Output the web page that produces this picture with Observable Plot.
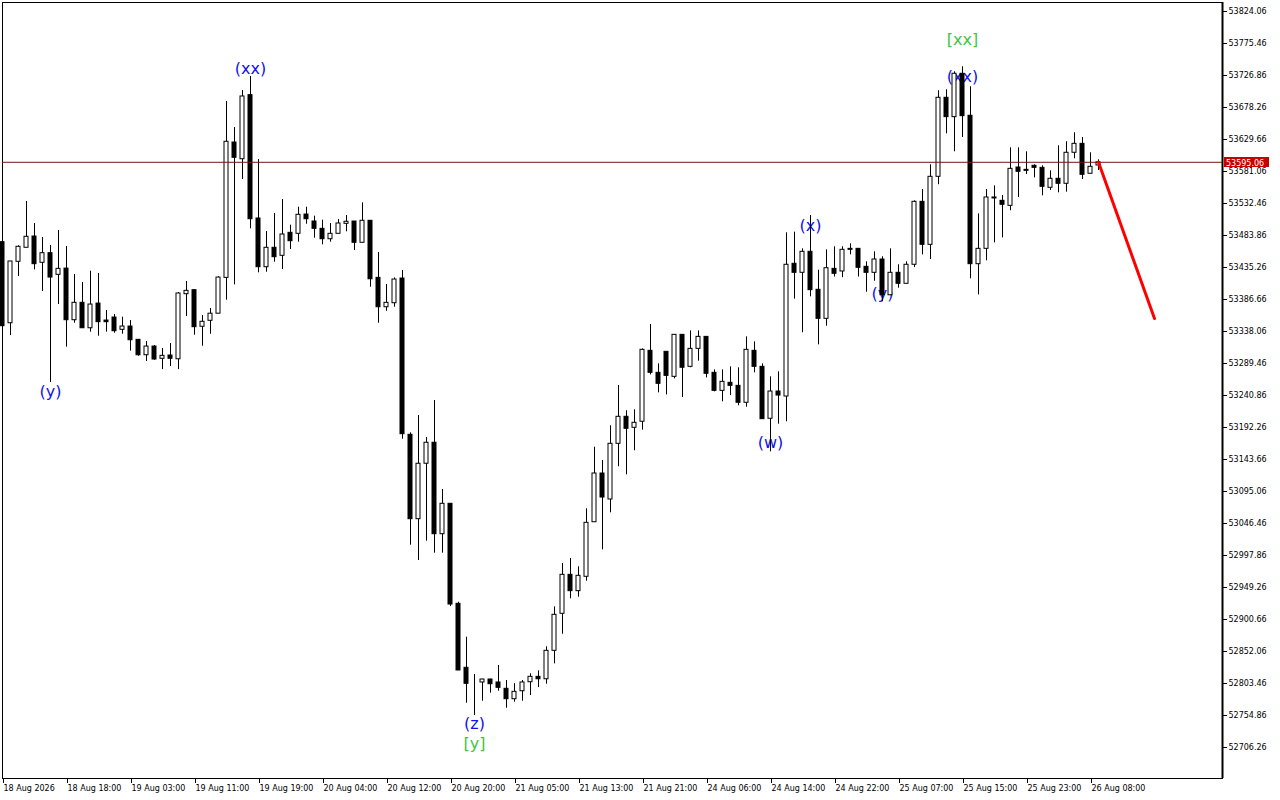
<!DOCTYPE html>
<html><head><meta charset="utf-8">
<script src="https://cdn.jsdelivr.net/npm/d3@7"></script>
<script src="https://cdn.jsdelivr.net/npm/@observablehq/plot@0.6"></script>
<style>
html,body{margin:0;padding:0;background:#fff;}
#chart svg{display:block;}
</style></head><body><div id="chart"></div>
<script>
const opens = [53473.7,53350.6,53443.9,53465.2,53482.3,53442.4,53457.0,53424.1,53433.6,53355.2,53381.6,53343.0,53380.5,53354.7,53359.3,53340.6,53345.6,53325.4,53302.0,53315.2,53296.6,53301.6,53295.9,53394.7,53400.8,53345.2,53354.3,53365.1,53419.5,53625.1,53599.7,53697.0,53509.7,53435.7,53465.2,53453.0,53487.9,53486.4,53515.7,53505.1,53494.0,53478.2,53486.4,53501.6,53505.1,53472.8,53506.2,53419.5,53374.9,53381.0,53418.5,53181.2,53053.0,53137.2,53169.1,53030.2,53076.4,52924.5,52827.3,52805.0,52805.0,52809.5,52805.0,52795.4,52779.6,52791.7,52805.4,52813.6,52809.9,52853.1,52909.3,52968.5,52943.7,52965.5,53048.4,53122.4,53082.9,53167.5,53208.5,53191.8,53201.0,53308.7,53275.3,53307.2,53269.2,53333.0,53284.4,53311.7,53329.9,53275.3,53247.9,53260.1,53255.5,53229.8,53308.7,53284.4,53205.5,53246.9,53239.3,53440.9,53427.2,53459.1,53401.4,53357.3,53433.2,53429.2,53463.6,53463.6,53436.3,53427.2,53447.4,53393.1,53427.2,53410.5,53439.4,53535.0,53469.7,53573.0,53693.0,53663.6,53729.5,53665.7,53440.3,53463.6,53541.6,53536.5,53528.9,53587.1,53583.6,53589.7,53586.6,53556.3,53570.0,53562.4,53609.5,53623.1,53577.6,53590.2];
const highs = [53479.3,53444.4,53468.2,53535.5,53502.1,53480.8,53468.7,53491.4,53467.1,53424.6,53412.5,53429.6,53426.1,53369.9,53363.8,53359.8,53354.7,53325.9,53322.8,53316.8,53312.2,53319.8,53397.3,53414.0,53400.8,53362.3,53372.9,53421.1,53687.4,53647.9,53704.1,53725.4,53599.3,53489.9,53517.3,53538.5,53499.5,53526.8,53526.8,53513.2,53507.1,53502.1,53508.1,53514.2,53505.1,53533.5,53506.6,53458.0,53409.4,53419.5,53430.7,53184.2,53210.5,53177.1,53233.3,53098.1,53076.4,52926.9,52873.8,52817.1,52810.0,52810.0,52830.8,52808.0,52803.2,52808.0,52818.2,52822.7,52859.2,52919.9,52985.7,52993.3,52980.7,53068.8,53162.3,53142.2,53194.9,53256.0,53217.7,53219.2,53311.7,53348.6,53288.9,53307.2,53333.0,53333.0,53339.0,53339.0,53329.9,53279.8,53279.8,53284.4,53282.9,53329.9,53322.4,53288.9,53269.2,53276.8,53488.0,53488.9,53463.6,53514.2,53431.1,53462.1,53466.7,53466.7,53471.2,53463.6,53443.9,53459.1,53451.5,53463.6,53439.4,53443.9,53536.5,53553.7,53591.2,53703.7,53705.2,53732.5,53740.1,53709.7,53516.8,53553.7,53559.3,53544.6,53617.0,53617.0,53611.0,53591.2,53589.7,53582.1,53620.1,53626.2,53639.9,53632.7,53609.5,53598.8];
const lows = [53335.0,53331.9,53421.6,53465.2,53431.7,53398.8,53260.6,53379.0,53314.2,53350.6,53343.0,53337.0,53330.9,53337.0,53335.5,53333.9,53308.2,53300.5,53292.5,53294.4,53280.2,53284.8,53280.2,53360.8,53332.4,53315.7,53333.9,53365.1,53385.6,53408.9,53568.9,53494.0,53427.2,53428.1,53443.3,53432.2,53462.6,53473.7,53501.0,53479.7,53469.7,53473.7,53486.4,53489.5,53461.1,53472.8,53405.3,53350.6,53368.8,53374.9,53174.5,53013.5,52990.3,53019.6,53001.4,53001.4,52920.4,52823.2,52773.5,52754.8,52776.5,52788.8,52791.7,52765.9,52775.0,52776.5,52785.2,52797.3,52802.4,52833.3,52878.3,52932.1,52934.5,52958.8,53048.4,53006.5,53062.7,53132.6,53120.4,53156.9,53188.2,53272.2,53244.9,53241.8,53266.2,53237.7,53283.0,53293.0,53267.6,53246.4,53231.3,53240.7,53225.2,53223.1,53275.3,53204.9,53155.3,53197.3,53201.0,53387.1,53336.1,53390.7,53317.8,53346.1,53420.8,53419.8,53454.5,53420.8,53397.7,53414.4,53383.1,53392.6,53403.9,53410.5,53435.3,53454.5,53447.4,53561.0,53638.3,53611.0,53632.7,53418.1,53393.7,53445.4,53472.7,53480.3,53521.4,53541.6,53576.5,53571.4,53544.1,53552.2,53548.7,53549.7,53600.4,53568.9,53577.6,53582.6];
const closes = [53346.1,53444.4,53466.7,53481.9,53440.3,53457.0,53420.0,53433.2,53355.2,53381.6,53343.0,53379.0,53352.2,53352.2,53338.5,53345.6,53324.8,53302.0,53315.2,53295.5,53301.1,53296.6,53395.8,53399.8,53344.6,53352.8,53365.1,53420.0,53626.2,53601.9,53695.0,53508.6,53435.7,53465.2,53450.9,53485.4,53475.2,53515.3,53508.6,53494.0,53478.2,53486.4,53502.1,53504.7,53472.8,53506.2,53417.4,53374.9,53381.6,53417.0,53182.1,53053.0,53137.2,53169.1,53030.2,53076.4,52923.4,52823.2,52803.0,52805.0,52809.5,52802.4,52796.9,52779.6,52790.8,52805.0,52813.6,52809.9,52853.1,52907.8,52968.5,52943.7,52967.0,53047.5,53122.4,53085.9,53167.5,53208.5,53190.3,53199.4,53310.2,53275.3,53258.6,53270.7,53333.0,53283.0,53311.7,53329.9,53273.8,53247.9,53261.6,53255.5,53229.8,53310.2,53284.4,53204.9,53246.9,53240.8,53439.4,53427.2,53459.1,53400.8,53357.3,53434.2,53425.7,53462.1,53462.1,53434.8,53427.2,53447.4,53393.1,53427.2,53410.5,53439.4,53535.0,53469.7,53573.0,53693.0,53663.6,53729.5,53665.1,53440.3,53463.6,53541.6,53540.1,53530.5,53585.1,53580.6,53582.1,53586.6,53557.8,53570.0,53562.4,53609.5,53623.1,53576.0,53588.2,53595.06];

const xTickBars = [0,8,16,24,32,40,48,56,64,72,80,88,96,104,112,120,128,136];
const xTickLabels = ["18 Aug 2026","18 Aug 18:00","19 Aug 03:00","19 Aug 11:00","19 Aug 19:00","20 Aug 04:00","20 Aug 12:00","20 Aug 20:00","21 Aug 05:00","21 Aug 13:00","21 Aug 21:00","24 Aug 06:00","24 Aug 14:00","24 Aug 22:00","25 Aug 07:00","25 Aug 15:00","25 Aug 23:00","26 Aug 08:00"];
const yTickValues = [53824.06,53775.46,53726.86,53678.26,53629.66,53581.06,53532.46,53483.86,53435.26,53386.66,53338.06,53289.46,53240.86,53192.26,53143.66,53095.06,53046.46,52997.86,52949.26,52900.66,52852.06,52803.46,52754.86,52706.26];
const lastPrice = 53595.06;

const forecastBars = [137, 144];
const forecastPrices = [53595.06, 53357.8];

const waveTexts  = ["(y)","(xx)","(z)","[y]","(w)","(x)","(y)","(xx)","[xx]"];
const waveBars   = [6, 31, 59, 59, 96, 101, 110, 120, 120];
const wavePrices = [53246.9, 53737.5, 52742.7, 52712.3, 53169.5, 53499.0, 53395.8, 53725.4, 53781.6];
const waveColors = ["#1010f0","#1010f0","#1010f0","#3cc83c","#1010f0","#1010f0","#1010f0","#1010f0","#3cc83c"];

const candles = opens.map((o, i) => ({i, o, h: highs[i], l: lows[i], c: closes[i], up: closes[i] >= o}));
const waves = waveTexts.map((t, k) => ({t, x: waveBars[k], y: wavePrices[k], color: waveColors[k]}));
const forecast = forecastBars.map((b, k) => ({x: b, y: forecastPrices[k]}));

const W = 1280, H = 800, mL = 2, mR = 58, mT = 2, mB = 22;

const plot = Plot.plot({
  width: W, height: H,
  marginLeft: mL, marginRight: mR, marginTop: mT, marginBottom: mB,
  x: {type: "linear", domain: [0, 152.5]},
  y: {domain: [52659.179, 53837.729]},
  style: {fontFamily: "'DejaVu Sans', sans-serif", fontSize: "8px", background: "#fff", color: "#000", overflow: "visible"},
  marks: [
    Plot.frame({stroke: "#000", strokeWidth: 1}),
    Plot.ruleX([152.5], {stroke: "#000", strokeWidth: 2}),
    Plot.axisY({anchor: "right", ticks: yTickValues, tickFormat: d => d.toFixed(2), tickSize: 4, tickPadding: 2, label: null}),
    Plot.axisX({ticks: xTickBars, tickFormat: d => xTickLabels[xTickBars.indexOf(d)], tickSize: 5, tickPadding: 2, textAnchor: "start", dx: 1, label: null}),
    Plot.text(waves, {x: "x", y: "y", text: "t", fill: "color", fontSize: 16, fontFamily: "'DejaVu Sans', sans-serif"}),
    Plot.ruleX(candles, {x: "i", y1: "l", y2: "h", stroke: "#000", strokeWidth: 1}),
    Plot.rect(candles, {x1: d => d.i - 0.25, x2: d => d.i + 0.25, y1: "o", y2: "c", fill: d => d.up ? "#ffffff" : "#000000", stroke: "#000", strokeWidth: 1}),
    Plot.ruleY([lastPrice], {stroke: "#7a1010", strokeWidth: 1}),
    Plot.line(forecast, {x: "x", y: "y", stroke: "#ff0000", strokeWidth: 3})
  ]
});

document.getElementById("chart").appendChild(plot);

// current price tag on the right axis
const yPix = plot.scale("y").apply(lastPrice);
const svg = d3.select(plot);
const g = svg.append("g");
g.append("rect").attr("x", W - mR + 2).attr("y", Math.round(yPix) - 5).attr("width", 45).attr("height", 10).attr("fill", "#c80000");
g.append("text").attr("x", W - mR + 4).attr("y", Math.round(yPix) + 3.5)
  .attr("text-anchor", "start")
  .attr("fill", "#fff").attr("font-size", 8).attr("font-family", "'DejaVu Sans', sans-serif")
  .text(lastPrice.toFixed(2));
</script></body></html>
